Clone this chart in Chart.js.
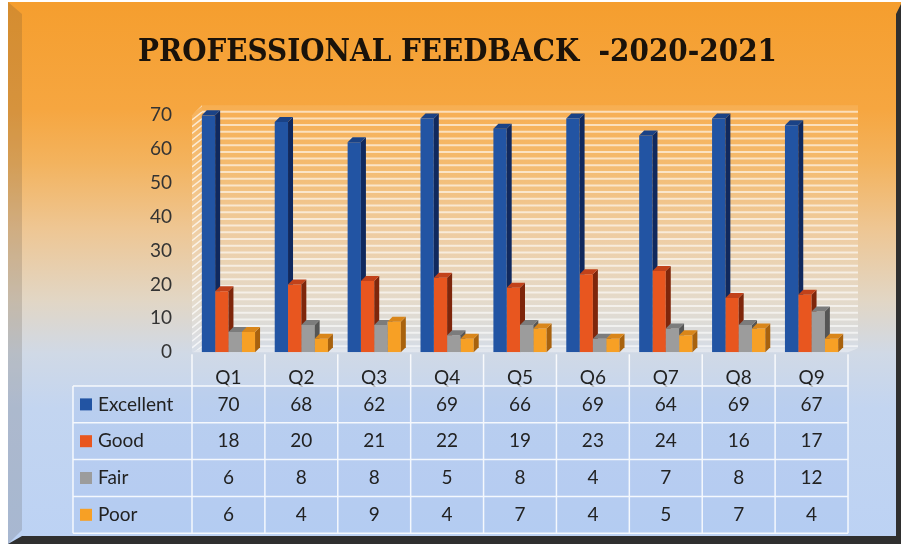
<!DOCTYPE html>
<html>
<head>
<meta charset="utf-8">
<script src="https://cdn.jsdelivr.net/npm/chart.js"></script>
<style>
  html, body { margin: 0; padding: 0; background: #fff; }
  canvas { display: block; }
</style>
</head>
<body>
<canvas id="chart" width="901" height="544"></canvas>
<script>
// data
const categories = ['Q1', 'Q2', 'Q3', 'Q4', 'Q5', 'Q6', 'Q7', 'Q8', 'Q9'];
const seriesNames = ['Excellent', 'Good', 'Fair', 'Poor'];
const excellent = [70, 68, 62, 69, 66, 69, 64, 69, 67];
const good = [18, 20, 21, 22, 19, 23, 24, 16, 17];
const fair = [6, 8, 8, 5, 8, 4, 7, 8, 12];
const poor = [6, 4, 9, 4, 7, 4, 5, 7, 4];
const yMin = 0, yMax = 70, yStep = 10;

// front / side / top colours for the 3d look
const fronts = ['#2254a3', '#e8561f', '#9c9c9c', '#f7a025'];
const sides = ['#10295e', '#7e260b', '#555555', '#a8620e'];
const tops = ['#1a4286', '#c2421a', '#7c7c7c', '#d9861a'];
const DX = 5, DY = 5;
const FONT = 'Lato, "Open Sans", sans-serif';

const framePlugin = {
  id: 'frame',
  beforeDraw(chart) {
    const { ctx, width, height } = chart;
    ctx.save();
    ctx.fillStyle = '#fff';
    ctx.fillRect(0, 0, width, height);
    const g = ctx.createLinearGradient(0, 0, 0, height);
    g.addColorStop(0, '#f59e2e');
    g.addColorStop(0.2, '#f6a640');
    g.addColorStop(0.3, '#f3b35e');
    g.addColorStop(0.42, '#eec693');
    g.addColorStop(0.55, '#e2d6c4');
    g.addColorStop(0.65, '#d0d9e6');
    g.addColorStop(0.75, '#c3d5f0');
    g.addColorStop(1, '#bcd2f4');
    ctx.fillStyle = g;
    ctx.fillRect(8, 2, 893, 542);
    // left bevel
    ctx.fillStyle = 'rgba(70,60,50,0.18)';
    ctx.beginPath();
    ctx.moveTo(8, 2); ctx.lineTo(22, 14); ctx.lineTo(22, 530); ctx.lineTo(8, 544);
    ctx.closePath(); ctx.fill();
    // right and bottom dark edges
    ctx.fillStyle = '#2f2f2f';
    ctx.beginPath();
    ctx.moveTo(901, 4); ctx.lineTo(901, 544); ctx.lineTo(8, 544); ctx.lineTo(22, 536);
    ctx.lineTo(896, 536); ctx.lineTo(896, 14);
    ctx.closePath(); ctx.fill();
    ctx.restore();
  },
  beforeDatasetsDraw(chart) {
    const { ctx, chartArea: a } = chart;
    const x0 = a.left + 10, x1 = a.right + 10, y0 = a.top - 10, y1 = a.bottom - 4;
    ctx.save();
    // back wall with fine stripes
    ctx.fillStyle = 'rgba(255,255,255,0.10)';
    ctx.fillRect(x0, y0, x1 - x0, y1 - y0);
    ctx.strokeStyle = 'rgba(255,255,255,0.6)';
    ctx.lineWidth = 2;
    ctx.beginPath();
    for (let y = y1 - 2; y > y0; y -= 6.7) {
      ctx.moveTo(x0, y); ctx.lineTo(x1, y);
    }
    ctx.stroke();
    // side wall
    ctx.beginPath();
    ctx.moveTo(a.left, a.top); ctx.lineTo(x0, y0); ctx.lineTo(x0, y1); ctx.lineTo(a.left, a.bottom);
    ctx.closePath();
    ctx.fillStyle = 'rgba(255,255,255,0.15)';
    ctx.fill();
    ctx.clip();
    ctx.strokeStyle = 'rgba(255,255,255,0.7)';
    ctx.lineWidth = 1.5;
    ctx.beginPath();
    for (let y = y0 - 20; y < a.bottom + 20; y += 6.7) {
      ctx.moveTo(a.left, y + 8); ctx.lineTo(x0, y);
    }
    ctx.stroke();
    ctx.restore();
    // floor
    ctx.save();
    ctx.fillStyle = 'rgba(255,255,255,0.35)';
    ctx.beginPath();
    ctx.moveTo(a.left, a.bottom); ctx.lineTo(x0, y1); ctx.lineTo(x1, y1); ctx.lineTo(a.right, a.bottom);
    ctx.closePath(); ctx.fill();
    ctx.restore();
  },
  afterDatasetsDraw(chart) {
    const { ctx, width, height } = chart;
    const metas = seriesNames.map((_, i) => chart.getDatasetMeta(i));
    for (let c = 0; c < categories.length; c++) {
      for (let s = 0; s < metas.length; s++) {
        const p = metas[s].data[c].getProps(['x', 'y', 'base', 'width'], true);
        const L = p.x - p.width / 2, R = p.x + p.width / 2;
        ctx.save();
        const next = metas[s + 1] && metas[s + 1].data[c];
        if (next) {
          const q = next.getProps(['x', 'y', 'base', 'width'], true);
          ctx.beginPath();
          ctx.rect(0, 0, width, height);
          ctx.rect(q.x - q.width / 2, q.y, q.width, q.base - q.y);
          ctx.clip('evenodd');
        }
        ctx.fillStyle = sides[s];
        ctx.beginPath();
        ctx.moveTo(R, p.y); ctx.lineTo(R + DX, p.y - DY); ctx.lineTo(R + DX, p.base - DY); ctx.lineTo(R, p.base);
        ctx.closePath(); ctx.fill();
        ctx.fillStyle = tops[s];
        ctx.beginPath();
        ctx.moveTo(L, p.y); ctx.lineTo(L + DX, p.y - DY); ctx.lineTo(R + DX, p.y - DY); ctx.lineTo(R, p.y);
        ctx.closePath(); ctx.fill();
        ctx.restore();
      }
    }
  },
  afterDraw(chart) {
    // data table under the plot
    const { ctx, chartArea: a } = chart;
    const xs = chart.scales.x;
    const colW = (xs.right - xs.left) / categories.length;
    const tLeft = 73, tRight = xs.right;
    const hdrTop = a.bottom + 2, rowTop = 386, rowH = 36.8;
    const rows = [excellent, good, fair, poor];
    ctx.save();
    ctx.fillStyle = 'rgba(150,180,235,0.22)';
    ctx.fillRect(tLeft, rowTop, tRight - tLeft, rowH * rows.length);
    ctx.strokeStyle = 'rgba(255,255,255,0.85)';
    ctx.lineWidth = 1.5;
    ctx.beginPath();
    for (let k = 0; k <= rows.length; k++) {
      const y = rowTop + k * rowH;
      ctx.moveTo(tLeft, y); ctx.lineTo(tRight, y);
    }
    ctx.moveTo(tLeft, rowTop); ctx.lineTo(tLeft, rowTop + rows.length * rowH);
    for (let k = 0; k <= categories.length; k++) {
      const x = xs.left + k * colW;
      ctx.moveTo(x, hdrTop); ctx.lineTo(x, rowTop + rows.length * rowH);
    }
    ctx.stroke();
    ctx.font = '19px ' + FONT;
    ctx.textBaseline = 'middle';
    rows.forEach((vals, s) => {
      const cy = rowTop + s * rowH + rowH / 2;
      ctx.fillStyle = fronts[s];
      ctx.fillRect(80, cy - 6, 12, 12);
      ctx.fillStyle = '#222';
      ctx.textAlign = 'left';
      ctx.fillText(seriesNames[s], 98, cy);
      ctx.textAlign = 'center';
      vals.forEach((v, c) => ctx.fillText(String(v), xs.getPixelForValue(c), cy));
    });
    ctx.restore();
  }
};

new Chart(document.getElementById('chart'), {
  type: 'bar',
  data: {
    labels: categories,
    datasets: [excellent, good, fair, poor].map((vals, i) => ({
      label: seriesNames[i],
      data: vals,
      backgroundColor: fronts[i],
      borderWidth: 0,
      categoryPercentage: 0.73,
      barPercentage: 1.0
    }))
  },
  options: {
    responsive: false,
    animation: false,
    layout: { padding: { left: 14, right: 0, top: 0, bottom: 141 } },
    plugins: {
      legend: { display: false },
      tooltip: { enabled: false },
      title: {
        display: true,
        text: 'PROFESSIONAL FEEDBACK  -2020-2021',
        color: '#1a120a',
        font: { family: '"DejaVu Serif Condensed", "DejaVu Serif", serif', size: 31, weight: 'bold' },
        padding: { top: 34, bottom: 44 }
      }
    },
    scales: {
      x: {
        grid: { display: false, drawTicks: false },
        border: { display: false },
        ticks: { color: '#222', font: { family: FONT, size: 19 }, padding: 14 }
      },
      y: {
        min: yMin,
        max: yMax,
        afterFit(scale) { scale.width = 178; },
        grid: { display: false, drawTicks: false },
        border: { display: false },
        ticks: { stepSize: yStep, color: '#333', font: { family: FONT, size: 19 }, padding: 20 }
      },
      yRight: {
        position: 'right',
        display: true,
        afterFit(scale) { scale.width = 53; },
        grid: { display: false, drawTicks: false },
        border: { display: false },
        ticks: { display: false }
      }
    }
  },
  plugins: [framePlugin]
});
</script>
</body>
</html>
